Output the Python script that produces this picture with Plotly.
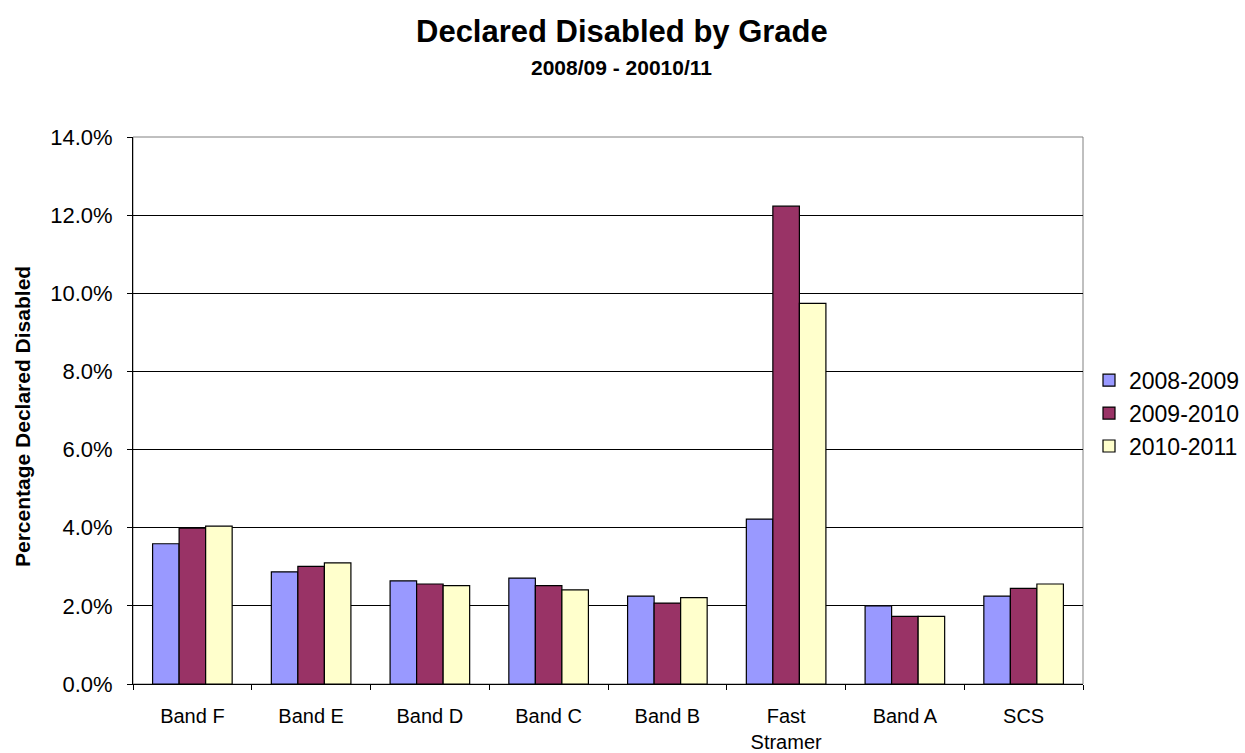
import plotly.graph_objects as go

categories = ["Band F", "Band E", "Band D", "Band C", "Band B", "Fast<br>Stramer", "Band A", "SCS"]
s2008_2009 = [0.0359, 0.0287, 0.0264, 0.0271, 0.0225, 0.0422, 0.0200, 0.0225]
s2009_2010 = [0.0399, 0.0301, 0.0256, 0.0252, 0.0207, 0.1223, 0.0173, 0.0245]
s2010_2011 = [0.0404, 0.0310, 0.0252, 0.0241, 0.0221, 0.0974, 0.0173, 0.0256]
series_names = ["2008-2009", "2009-2010", "2010-2011"]
colors = ["#9999FF", "#993366", "#FFFFCC"]
y_ticks = [0, 0.02, 0.04, 0.06, 0.08, 0.10, 0.12, 0.14]

FONT = "Liberation Sans, Arial, sans-serif"

fig = go.Figure()
for name, vals, col in zip(series_names, [s2008_2009, s2009_2010, s2010_2011], colors):
    fig.add_trace(go.Bar(
        x=categories, y=vals, name=name, legendgroup=name,
        marker=dict(color=col, line=dict(color="black", width=1.2)),
    ))

fig.update_layout(
    width=1245, height=753,
    margin=dict(l=133, r=162, t=137, b=69, autoexpand=False),
    paper_bgcolor="white", plot_bgcolor="white",
    barmode="group", bargap=0.33, bargroupgap=0,
    font=dict(family=FONT, color="black", size=20),
    showlegend=True,
    legend=dict(
        x=(1089 - 133) / 950, xanchor="left", y=0.495, yanchor="middle",
        font=dict(size=23, family=FONT), traceorder="grouped",
        tracegroupgap=0, bgcolor="rgba(0,0,0,0)",
    ),
    xaxis=dict(
        type="category", showline=True, linecolor="black", linewidth=1,
        ticks="outside", tickson="boundaries", ticklen=5, tickcolor="black",
        tickfont=dict(size=20, family=FONT), showgrid=False,
        ticklabelstandoff=14, automargin=False,
    ),
    yaxis=dict(
        range=[0, 0.14], tickvals=y_ticks, tickformat=".1%",
        showline=True, linecolor="black", linewidth=1,
        ticks="outside", ticklen=5, tickcolor="black",
        showgrid=True, gridcolor="black", gridwidth=1,
        tickfont=dict(size=22, family=FONT), zeroline=False,
        ticklabelstandoff=10, automargin=False,
    ),
    shapes=[dict(type="rect", xref="paper", yref="paper", x0=0, x1=1, y0=0, y1=1,
                 line=dict(color="#808080", width=1), layer="below")],
    annotations=[
        dict(text="<b>Declared Disabled by Grade</b>", xref="paper", yref="paper",
             x=(622 - 133) / 950, y=1 + (137 - 32) / 547, xanchor="center", yanchor="middle",
             showarrow=False, font=dict(size=31, family=FONT)),
        dict(text="<b>2008/09 - 20010/11</b>", xref="paper", yref="paper",
             x=(621 - 133) / 950, y=1 + (137 - 67) / 547, xanchor="center", yanchor="middle",
             showarrow=False, font=dict(size=21, family=FONT)),
        dict(text="<b>Percentage Declared Disabled</b>", xref="paper", yref="paper",
             x=(22 - 133) / 950, y=(684 - 417) / 547, xanchor="center", yanchor="middle",
             textangle=-90, showarrow=False, font=dict(size=21, family=FONT)),
    ],
)

fig.write_html("out.html")
